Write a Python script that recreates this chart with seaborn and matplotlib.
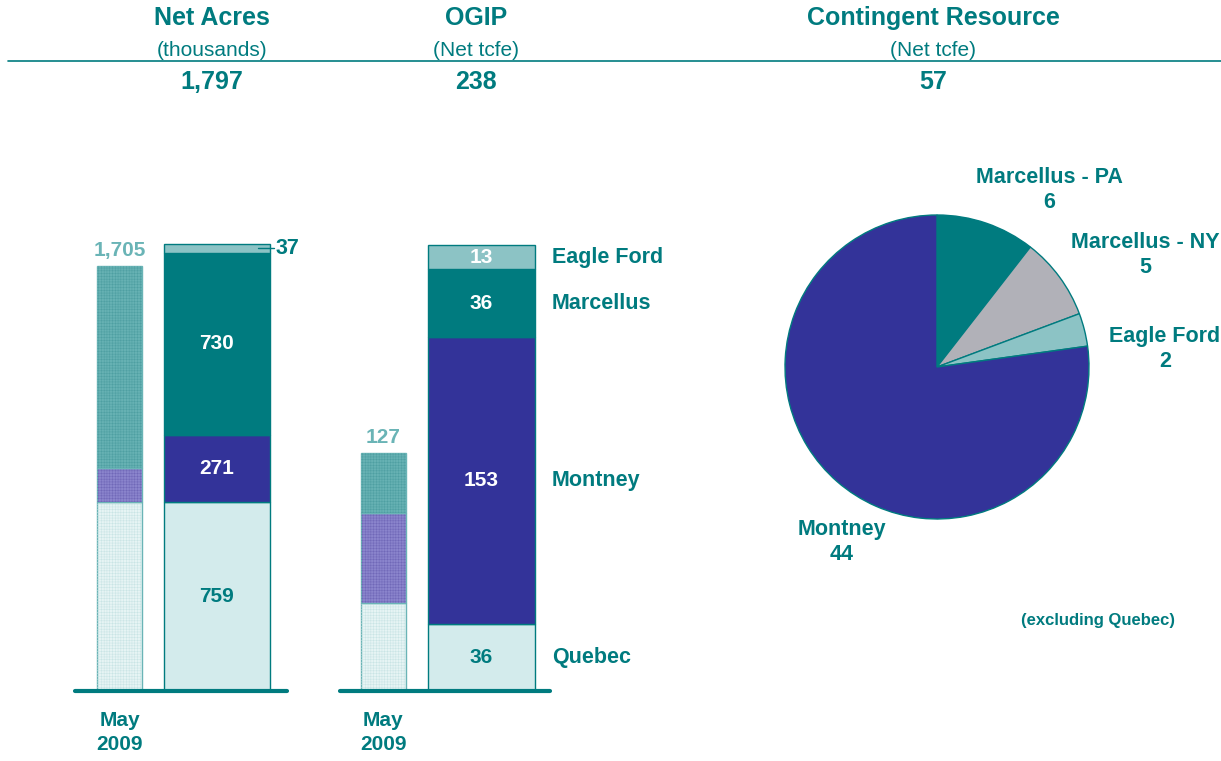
import matplotlib

matplotlib.use("Agg")
import matplotlib.pyplot as plt
import numpy as np
import seaborn as sns

# ── data ──────────────────────────────────────────────────────
segments = ["Quebec", "Montney", "Marcellus", "Eagle Ford"]
acres_now = [759, 271, 730, 37]
acres_may = [759, 136, 810]          # Quebec, Montney, other
ogip_now = [36, 153, 36, 13]
ogip_may = [47, 48, 32]
pie_labels = ["Marcellus - PA", "Marcellus - NY", "Eagle Ford", "Montney"]
pie_values = [6, 5, 2, 44]
headers = [("Net Acres", "(thousands)", "1,797"),
           ("OGIP", "(Net tcfe)", "238"),
           ("Contingent Resource", "(Net tcfe)", "57")]

# ── style ─────────────────────────────────────────────────────
TEAL = "#007B7F"
NAVY = "#333399"
PALE = "#D3EBEC"
AQUA = "#8CC3C5"
GREY = "#B1B1B8"
MAY_COLS = ["#E6F4F4", "#8A84CC", "#66B1B3"]
MAY_DOTS = ["#C9E4E5", "#7068B8", "#4E9FA2"]
MAY_EDGE = "#6AB4B6"
NOW_COLS = [PALE, NAVY, TEAL, AQUA]
TXT_COLS = [TEAL, "white", "white", "white"]

sns.set_theme(style="white")
plt.rcParams["font.family"] = ["Liberation Sans", "DejaVu Sans"]
plt.rcParams["hatch.linewidth"] = 0.35

W, H = 1221, 761
fig = plt.figure(figsize=(W / 100, H / 100), dpi=100)


def px_rect(x0, y0, x1, y1):
    return [x0 / W, 1 - y1 / H, (x1 - x0) / W, (y1 - y0) / H]


# header
for (title, unit, total), xc in zip(headers, [212, 476, 933]):
    fig.text(xc / W, 1 - 18 / H, title, ha="center", va="center",
             fontsize=18, fontweight="bold", color=TEAL)
    fig.text(xc / W, 1 - 50 / H, unit, ha="center", va="center",
             fontsize=15, color=TEAL)
    fig.text(xc / W, 1 - 82 / H, total, ha="center", va="center",
             fontsize=18, fontweight="bold", color=TEAL)
fig.add_artist(plt.Line2D([8 / W, 1], [1 - 61 / H] * 2, color=TEAL, lw=1.2))


def stacked(ax, x, vals, width, colors, edge, dots=None):
    bottoms = np.concatenate([[0], np.cumsum(vals)[:-1]])
    for i, (v, b, c) in enumerate(zip(vals, bottoms, colors)):
        ax.bar(x, v, width=width, bottom=b, color=c, edgecolor=edge,
               linewidth=1)
        if dots is not None:
            ax.bar(x, v, width=width, bottom=b, fill=False, hatch="++++++",
                   edgecolor=dots[i], linewidth=0)
    return bottoms


def bar_panel(rect, may_vals, now_vals, ymax, may_total, labels_right):
    ax = fig.add_axes(rect)
    stacked(ax, 0, may_vals, 0.46, MAY_COLS, MAY_EDGE, dots=MAY_DOTS)
    bottoms = stacked(ax, 1, now_vals, 1.09, NOW_COLS, TEAL)
    ax.set_ylim(0, ymax)
    ax.axhline(0, color=TEAL, lw=3, zorder=5, clip_on=False)
    ax.annotate(may_total, xy=(0, sum(may_vals)), xytext=(0, 6),
                textcoords="offset pixels", ha="center", va="bottom",
                fontsize=15, fontweight="bold", color=MAY_EDGE)
    for v, b, c, name in zip(now_vals, bottoms, TXT_COLS, segments):
        mid = b + v / 2
        if labels_right:
            ax.text(1.72, mid, name, ha="left", va="center", fontsize=15.5,
                    fontweight="bold", color=TEAL, clip_on=False)
        if v < 0.03 * ymax and not labels_right:
            ax.plot([1.42, 1.58], [mid, mid], color=TEAL, lw=1, clip_on=False)
            ax.text(1.6, mid, f"{v:,}", ha="left", va="center", fontsize=15.5,
                    fontweight="bold", color=TEAL, clip_on=False)
        else:
            ax.text(1, mid, f"{v:,}", ha="center", va="center", fontsize=15,
                    fontweight="bold", color=c)
    ax.annotate("May\n2009", xy=(0, 0), xytext=(0, -20),
                textcoords="offset pixels", ha="center", va="top",
                fontsize=15, fontweight="bold", color=TEAL, linespacing=1.3,
                annotation_clip=False)
    ax.set_axis_off()
    return ax


ax1 = bar_panel(px_rect(75, 200, 287, 691), acres_may, acres_now, 1972,
                "1,705", False)
ax1.set_xlim(-0.456, 1.718)
ax2 = bar_panel(px_rect(340, 200, 550, 691), ogip_may, ogip_now, 262,
                "127", True)
ax2.set_xlim(-0.44, 1.70)

# ── pie ───────────────────────────────────────────────────────
ax3 = fig.add_axes(px_rect(785, 215, 1089, 519))
ax3.pie(pie_values, colors=[TEAL, GREY, AQUA, NAVY], startangle=90,
        counterclock=False, radius=1,
        wedgeprops=dict(edgecolor=TEAL, linewidth=1))
ax3.set_xlim(-1, 1)
ax3.set_ylim(-1, 1)
label_pos = [(0.737, 1.164), (1.37, 0.737), (1.50, 0.118), (-0.625, -1.151)]
for name, v, (lx, ly) in zip(pie_labels, pie_values, label_pos):
    ax3.text(lx, ly, f"{name}\n{v}", ha="center", va="center", fontsize=15.5,
             fontweight="bold", color=TEAL, linespacing=1.25, clip_on=False)
ax3.text(1.06, -1.67, "(excluding Quebec)", ha="center", va="center",
         fontsize=12, fontweight="bold", color=TEAL, clip_on=False)

fig.savefig("out.png", dpi=100)
